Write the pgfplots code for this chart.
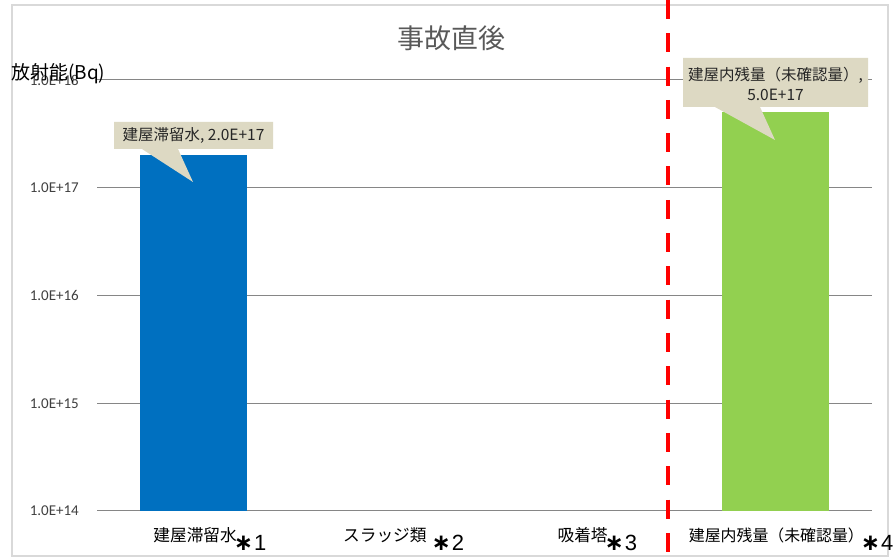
\documentclass[border=0pt]{standalone}
\usepackage{fontspec}
\setmainfont{Noto Sans CJK JP}
\newfontfamily\carlito{Carlito}
\newfontfamily\djv{DejaVu Sans}
\newfontfamily\libsans{Liberation Sans}
\usepackage{pgfplots}
\pgfplotsset{compat=1.18}
\definecolor{barblue}{HTML}{0070C0}
\definecolor{bargreen}{HTML}{92D050}
\definecolor{callout}{HTML}{DDD9C3}
\definecolor{gridgray}{HTML}{868686}
\definecolor{framegray}{HTML}{D9D9D9}
\definecolor{titlegray}{HTML}{595959}
\definecolor{ticktext}{HTML}{404040}
\newcommand{\xl}[2]{\raisebox{9pt}{\fontsize{16.7}{17}\selectfont #1}\hspace{-3pt}{\djv\bfseries\fontsize{23}{23}\selectfont ∗}\hspace{1pt}{\libsans\fontsize{22}{22}\selectfont #2}}
\begin{document}
\begin{tikzpicture}[x=1pt,y=1pt]
\useasboundingbox (0,0) rectangle (894,557);
\fill[white] (0,0) rectangle (894,557);
\draw[framegray, line width=1.2pt] (12,1) rectangle (888,552);
\begin{axis}[
  at={(97pt,46pt)}, anchor=south west,
  scale only axis, width=775pt, height=431pt,
  ymode=log, ymin=1e14, ymax=1e18, log origin=infty,
  yminorticks=false,
  xmin=-0.5, xmax=3.5,
  xtick={0,1,2,3},
  xticklabels={\xl{建屋滞留水}{1},\xl{スラッジ類\hspace{8pt}}{2},\xl{吸着塔}{3},\xl{\fontsize{15.9}{16}\selectfont 建屋内残量（未確認量）}{4}},
  ytick={1e14,1e15,1e16,1e17,1e18},
  yticklabels={1.0E+14,1.0E+15,1.0E+16,1.0E+17,1.0E+18},
  yticklabel style={font=\carlito\fontsize{15}{15}\selectfont, text=ticktext, inner sep=0pt, xshift=-18pt},
  xticklabel style={anchor=base, inner sep=0pt, yshift=-40pt, xshift=16pt, text=black},
  major tick length=0pt, tick style={draw=none},
  axis line style={draw=none},
  ymajorgrids, grid style={gridgray, line width=1pt},
  ybar, bar width=107pt,
]
\addplot[fill=barblue, draw=none, bar shift=0pt] coordinates {(0,2.0e17)};
\addplot[fill=bargreen, draw=none, bar shift=0pt] coordinates {(3,5.0e17)};
\end{axis}
% separator
\draw[red, line width=4.5pt, dash pattern=on 19pt off 14.3pt] (668,557) -- (668,0);
% callouts
\fill[callout] (114,435) -- (273,435) -- (273,408) -- (178,408) -- (193,375) -- (142,408) -- (114,408) -- cycle;
\node[font=\fontsize{15.5}{17}\selectfont, text=black!85] at (193.5,421.5) {建屋滞留水, 2.0E+17};
\fill[callout] (683,499) -- (868,499) -- (868,450) -- (760,450) -- (775,417) -- (715,450) -- (683,450) -- cycle;
\node[font=\fontsize{15.5}{17}\selectfont, text=black!85] at (775.5,482) {建屋内残量（未確認量）,};
\node[font=\fontsize{15.5}{17}\selectfont, text=black!85] at (775.5,462) {5.0E+17};
% title and y label
\node[font=\fontsize{27}{27}\selectfont, text=titlegray] at (451,519) {事故直後};
\node[font=\fontsize{19}{19}\selectfont, anchor=west, inner sep=0pt] at (11,483) {放射能(Bq)};
\end{tikzpicture}
\end{document}
